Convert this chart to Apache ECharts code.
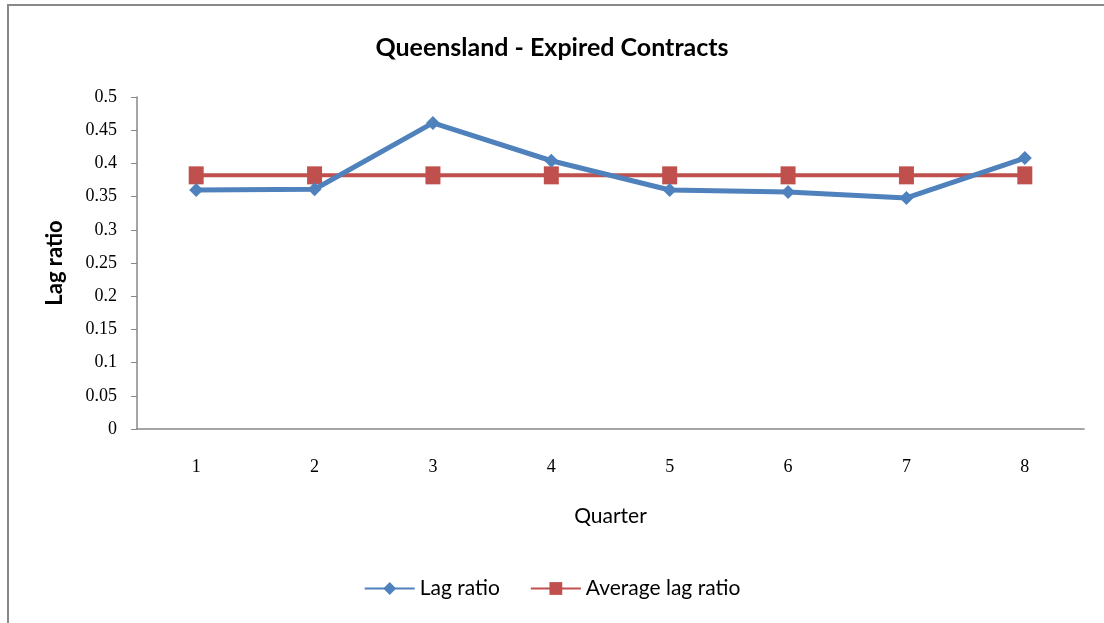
<!DOCTYPE html>
<html>
<head>
    <meta charset="utf-8">
    <title>Queensland - Expired Contracts</title>
    <script src="https://cdn.jsdelivr.net/npm/echarts@6/dist/echarts.min.js"></script>
    <style>
        html, body { margin: 0; padding: 0; background: #fff; }
    </style>
</head>
<body>
<div id="main" style="width: 1104px;height:623px;"></div>
<script type="text/javascript">
    // quarters and values
    var quarters = ['1', '2', '3', '4', '5', '6', '7', '8'];
    var lagRatio = [0.360, 0.361, 0.461, 0.404, 0.360, 0.357, 0.348, 0.408];
    var averageLag = [0.382, 0.382, 0.382, 0.382, 0.382, 0.382, 0.382, 0.382];

    var myChart = echarts.init(document.getElementById('main'));

    var option = {
        backgroundColor: '#fff',
        animation: false,
        title: {
            text: 'Queensland - Expired Contracts',
            left: 'center',
            top: 30,
            textStyle: {
                fontFamily: 'Lato',
                fontSize: 25,
                fontWeight: 'bold',
                color: '#000'
            }
        },
        graphic: [
            { type: 'line', shape: { x1: 7, y1: 5, x2: 1104, y2: 5 }, style: { stroke: '#888', lineWidth: 2 } },
            { type: 'line', shape: { x1: 8, y1: 5, x2: 8, y2: 623 }, style: { stroke: '#888', lineWidth: 2 } }
        ],
        legend: {
            bottom: 19,
            left: 'center',
            itemWidth: 50,
            itemHeight: 16,
            itemGap: 30,
            textStyle: { fontFamily: 'Lato', fontSize: 21, color: '#000' },
            data: ['Lag ratio', 'Average lag ratio']
        },
        grid: {
            left: 137,
            right: 20,
            top: 97,
            bottom: 194
        },
        xAxis: {
            type: 'category',
            data: quarters,
            name: 'Quarter',
            nameLocation: 'middle',
            nameGap: 77,
            nameTextStyle: { fontFamily: 'Lato', fontSize: 21, color: '#000' },
            axisLine: { lineStyle: { color: '#888', width: 1.5 } },
            axisTick: { show: false },
            axisLabel: { margin: 29, fontFamily: 'Liberation Serif', fontSize: 18, color: '#000' }
        },
        yAxis: {
            type: 'value',
            min: 0,
            max: 0.5,
            interval: 0.05,
            name: 'Lag ratio',
            nameLocation: 'middle',
            nameGap: 71,
            nameTextStyle: { fontFamily: 'Lato', fontSize: 22, fontWeight: 'bold', color: '#000' },
            axisLine: { show: true, lineStyle: { color: '#888', width: 1.5 } },
            axisTick: { show: true, length: 6, lineStyle: { color: '#888' } },
            splitLine: { show: false },
            axisLabel: {
                margin: 20,
                fontFamily: 'Liberation Serif',
                fontSize: 18,
                color: '#000',
                formatter: function (v) { return String(parseFloat(v.toFixed(2))); }
            }
        },
        series: [
            {
                name: 'Lag ratio',
                type: 'line',
                data: lagRatio,
                symbol: 'diamond',
                symbolSize: 14,
                lineStyle: { color: '#4F81BD', width: 5 },
                itemStyle: { color: '#4F81BD' },
                z: 3
            },
            {
                name: 'Average lag ratio',
                type: 'line',
                data: averageLag,
                symbol: 'rect',
                symbolSize: [15, 18],
                lineStyle: { color: '#C0504D', width: 4 },
                itemStyle: { color: '#C0504D' },
                z: 2
            }
        ]
    };

    myChart.setOption(option);
</script>
</body>
</html>
